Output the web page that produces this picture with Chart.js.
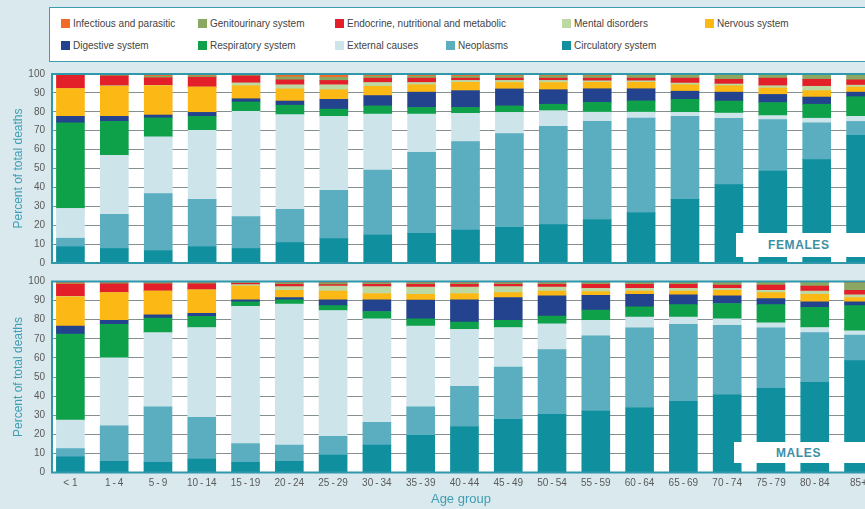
<!DOCTYPE html>
<html><head><meta charset="utf-8">
<script src="https://cdn.jsdelivr.net/npm/chart.js@4/dist/chart.umd.min.js"></script>
<style>
html,body{margin:0;padding:0;background:#d9e9ee;width:865px;height:509px;overflow:hidden;position:relative;font-family:'Liberation Sans',Arial,sans-serif;}
#legend{position:absolute;left:49px;top:7px;width:840px;height:55px;background:#fff;border:1.5px solid #3a9db0;box-sizing:border-box;}
.li{position:absolute;font-size:10px;color:#444;white-space:nowrap;line-height:11px;}
.li i{display:inline-block;width:9px;height:9px;margin-right:3px;vertical-align:-1px;}
canvas{position:absolute;left:0;}
#c1{top:60px;}
#c2{top:268px;}
.tag{position:absolute;background:#fff;z-index:5;}
.tagt{position:absolute;z-index:6;font:bold 12px 'Liberation Sans',Arial,sans-serif;letter-spacing:0.6px;color:#3d8fa3;line-height:14px;}
</style></head>
<body>
<div id="legend"></div>
<canvas id="c1" width="872" height="216" style="width:872px;height:216px"></canvas>
<canvas id="c2" width="872" height="241" style="width:872px;height:241px"></canvas>
<div class="tag" style="left:736px;top:233px;width:140px;height:24px"></div>
<div class="tagt" style="left:768px;top:238px">FEMALES</div>
<div class="tag" style="left:734px;top:442px;width:140px;height:21px"></div>
<div class="tagt" style="left:776px;top:446px">MALES</div>
<script>
const ageGroups = ['< 1','1\u2009-\u20094','5\u2009-\u20099','10\u2009-\u200914','15\u2009-\u200919','20\u2009-\u200924','25\u2009-\u200929','30\u2009-\u200934','35\u2009-\u200939','40\u2009-\u200944','45\u2009-\u200949','50\u2009-\u200954','55\u2009-\u200959','60\u2009-\u200964','65\u2009-\u200969','70\u2009-\u200974','75\u2009-\u200979','80\u2009-\u200984','85+'];
const causes = ['Circulatory system','Neoplasms','External causes','Respiratory system','Digestive system','Nervous system','Mental disorders','Endocrine, nutritional and metabolic','Genitourinary system','Infectious and parasitic'];
const yTicks = [0,10,20,30,40,50,60,70,80,90,100];

// FEMALES (percent of total deaths)
const fCirculatory = [8.6,7.7,6.5,8.6,7.7,10.8,12.9,14.8,15.7,17.4,18.9,20.3,23.0,26.7,33.7,41.5,48.7,54.7,67.6];
const fNeoplasms   = [4.5,18.1,30.2,25.1,16.9,17.6,25.5,34.4,42.8,46.8,49.6,52.0,52.0,50.0,43.9,35.1,27.2,19.5,7.3];
const fExternal    = [15.8,31.2,30.1,36.5,55.6,50.1,39.2,29.6,20.3,15.0,11.2,8.3,4.8,3.1,2.1,2.7,2.1,2.4,2.7];
const fRespiratory = [45.3,18.0,10.0,7.4,5.0,5.0,3.8,4.3,3.5,3.1,3.4,3.4,5.2,6.0,6.9,6.4,6.9,7.4,10.4];
const fDigestive   = [3.4,2.6,1.5,2.1,1.7,2.2,5.2,5.5,8.1,8.9,9.0,7.7,7.2,6.4,4.3,4.7,4.3,3.8,2.4];
const fNervous     = [14.7,15.9,15.5,13.4,6.9,6.4,5.1,4.9,3.9,4.4,3.4,3.8,3.4,3.4,3.4,3.4,3.4,3.4,2.7];
const fMental      = [0,0.3,0.2,0,1.5,2.2,2.6,2.0,1.2,1.0,1.1,1.1,0.8,0.8,0.9,0.9,1.2,2.3,1.0];
const fEndocrine   = [7.2,5.2,4.0,5.2,3.7,2.6,2.3,2.3,2.3,1.2,1.2,1.2,1.4,1.4,2.6,2.5,4.0,3.7,2.8];
const fGenito      = [0.2,0.4,0.8,0.7,0.5,1.5,1.6,1.0,1.0,1.0,1.2,1.2,1.2,1.4,1.4,2.0,1.6,2.2,2.6];
const fInfectious  = [0.3,0.6,1.2,1.0,0.5,1.6,1.8,1.2,1.2,1.2,1.0,1.0,1.0,0.8,0.8,0.8,0.6,0.6,0.5];

// MALES (percent of total deaths)
const mCirculatory = [8.2,5.8,5.3,7.0,5.3,5.8,9.1,14.4,19.5,24.1,27.9,30.4,32.1,33.8,37.3,40.7,44.1,47.2,58.6];
const mNeoplasms   = [4.3,18.6,29.1,21.9,9.9,8.6,9.9,11.9,14.9,21.0,27.3,33.9,39.4,41.9,40.3,36.4,31.6,26.0,13.4];
const mExternal    = [15.0,35.6,38.8,47.0,71.8,73.8,65.8,54.2,42.2,29.8,20.7,13.6,8.2,5.7,3.8,3.4,2.6,2.7,2.2];
const mRespiratory = [45.0,17.6,7.7,5.8,2.4,2.2,2.6,3.8,3.9,3.9,3.8,4.0,5.4,5.4,6.5,8.0,9.6,10.6,13.2];
const mDigestive   = [4.1,2.1,1.7,1.7,1.0,1.2,3.0,6.1,9.8,11.6,11.9,10.6,7.7,6.5,5.1,4.0,3.2,2.9,2.0];
const mNervous     = [15.4,14.5,12.4,12.2,7.2,3.8,4.6,3.3,3.0,3.3,2.6,2.5,1.9,1.7,2.0,2.9,3.1,3.9,2.2];
const mMental      = [0.2,0,0,0,0.8,1.9,2.6,3.6,3.8,3.4,3.1,2.1,1.7,1.4,1.4,1.0,1.2,1.7,1.4];
const mEndocrine   = [6.3,4.6,3.8,3.2,0.6,1.2,0.8,1.2,1.4,1.4,1.2,1.4,2.1,2.1,2.1,1.7,2.7,2.6,2.4];
const mGenito      = [0.3,0.4,0.5,0.5,0.4,0.6,0.6,0.6,0.6,0.6,0.6,0.7,0.8,0.8,0.9,1.3,1.4,1.9,3.8];
const mInfectious  = [1.2,0.8,0.7,0.7,0.6,0.9,1.0,0.9,0.9,0.9,0.9,0.8,0.7,0.7,0.6,0.6,0.5,0.5,0.8];

const colors = ['#10909f','#5aaebf','#cde4eb','#0fa04a','#24438e','#fcb814','#bcd9a3','#e3202a','#8aa862','#f26a2a'];
const females = [fCirculatory,fNeoplasms,fExternal,fRespiratory,fDigestive,fNervous,fMental,fEndocrine,fGenito,fInfectious];
const males = [mCirculatory,mNeoplasms,mExternal,mRespiratory,mDigestive,mNervous,mMental,mEndocrine,mGenito,mInfectious];

// HTML legend
const legendPos = {
  'Infectious and parasitic':[61,18],'Genitourinary system':[198,18],'Endocrine, nutritional and metabolic':[335,18],'Mental disorders':[562,18],'Nervous system':[705,18],
  'Digestive system':[61,40],'Respiratory system':[198,40],'External causes':[335,40],'Neoplasms':[446,40],'Circulatory system':[562,40]
};
causes.forEach((c,i)=>{
  const d=document.createElement('div'); d.className='li';
  d.style.left=legendPos[c][0]+'px'; d.style.top=legendPos[c][1]+'px';
  d.innerHTML='<i style="background:'+colors[i]+'"></i>'+c;
  document.body.appendChild(d);
});

Chart.defaults.font.family = "'Liberation Sans', Arial, sans-serif";
const teal = '#2f98aa';
const framePlugin = {
  id:'frame',
  beforeDraw(chart){const {ctx,chartArea:a}=chart;ctx.save();ctx.fillStyle='#fff';ctx.fillRect(a.left,a.top,a.right-a.left,a.bottom-a.top);ctx.restore();},
  afterDatasetsDraw(chart){const {ctx,chartArea:a}=chart;ctx.save();ctx.strokeStyle=teal;ctx.lineWidth=2;ctx.beginPath();
    ctx.moveTo(a.right,a.top);ctx.lineTo(a.left,a.top);ctx.lineTo(a.left,a.bottom);ctx.lineTo(a.right,a.bottom);ctx.stroke();ctx.restore();}
};

function makeChart(id, series, bottom){
  const datasets = series.map((arr,k)=>({
    label: causes[k],
    data: arr.map((v,i)=>({x:i,y:v})),
    backgroundColor: colors[k],
    borderWidth: 0,
    barThickness: 28
  }));
  return new Chart(document.getElementById(id), {
    type:'bar',
    data:{datasets},
    plugins:[framePlugin],
    options:{
      responsive:false, animation:false, devicePixelRatio:1,
      layout:{padding:{left:0,right:0,top: bottom?13.5:14, bottom: bottom?0:9.5}},
      plugins:{legend:{display:false},tooltip:{enabled:false}},
      scales:{
        x:{type:'linear', stacked:true, offset:false, min:-0.42, max:18.26, display: bottom,
           afterBuildTicks:(s)=>{s.ticks = ageGroups.map((_,i)=>({value:i}));},
           afterFit:(s)=>{ if(bottom) s.height = 36.5; },
           grid:{display:false, drawTicks:false, offset:false}, border:{display:false},
           ticks:{autoSkip:false, maxRotation:0, padding:5, color:'#5a5a5a', font:{size:10},
                  callback:(v)=>ageGroups[Math.round(v)]},
           title:{display:true, text:'Age group', color:'#3f9db3', font:{size:13}, padding:{top:0,bottom:2}}
        },
        y:{stacked:true, min:0, max:100,
           afterBuildTicks:(s)=>{s.ticks = yTicks.map(v=>({value:v}));},
           afterFit:(s)=>{s.width = 52;},
           grid:{color:'#84908f', lineWidth:1, drawTicks:false}, border:{display:false},
           ticks:{padding:7, color:'#5a5a5a', font:{size:10}},
           title:{display:true, text:'Percent of total deaths', color:'#3f9db3', font:{size:12}, padding:{top:11,bottom:0}}
        }
      }
    }
  });
}
makeChart('c1', females, false);
makeChart('c2', males, true);
</script>
</body></html>
